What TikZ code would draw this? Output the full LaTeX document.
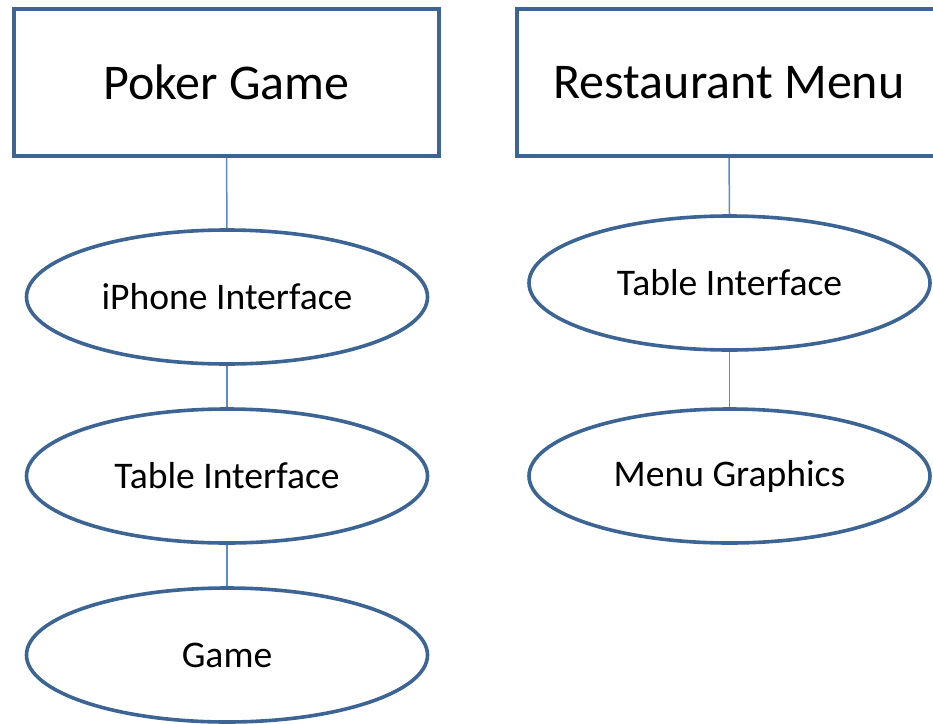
\documentclass[tikz,border=0pt]{standalone}
\usepackage{fontspec}
\setmainfont{Carlito}
\usetikzlibrary{shapes.geometric}
\definecolor{edgeblue}{HTML}{3C6494}
\definecolor{linkblue}{HTML}{5A8ACA}
\tikzset{
  titlebox/.style={draw=edgeblue, line width=4pt, rectangle, fill=white,
    minimum width=425pt, minimum height=147pt, inner sep=0pt,
    font=\fontsize{50pt}{58pt}\selectfont},
  part/.style={draw=edgeblue, line width=3.6pt, ellipse, fill=white,
    minimum width=401pt, minimum height=134pt, inner sep=0pt,
    font=\fontsize{37.6pt}{44pt}\selectfont},
  link/.style={draw=linkblue, line width=1.5pt}
}
\begin{document}
\begin{tikzpicture}[x=1pt, y=-1pt]
  \useasboundingbox[fill=white] (0,0) rectangle (933,723);
  \clip (0,0) rectangle (933,723);
  % left column
  \node[titlebox] (poker) at (226.5,82.5) {Poker Game};
  \node[part] (iphone) at (227,297) {iPhone Interface};
  \node[part] (tableL) at (227,476) {Table Interface};
  \node[part] (game) at (227,655) {Game};
  % right column
  \node[titlebox] (menu) at (729,82.5) {Restaurant Menu};
  \node[part] (tableR) at (729.5,283) {Table Interface};
  \node[part] (graphics) at (729.5,476) {Menu Graphics};
  % connectors
  \draw[link] (poker.south) -- (iphone.north);
  \draw[link] (iphone.south) -- (tableL.north);
  \draw[link] (tableL.south) -- (game.north);
  \draw[link] (menu.south) -- (tableR.north);
  \draw[link] (tableR.south) -- (graphics.north);
\end{tikzpicture}
\end{document}
